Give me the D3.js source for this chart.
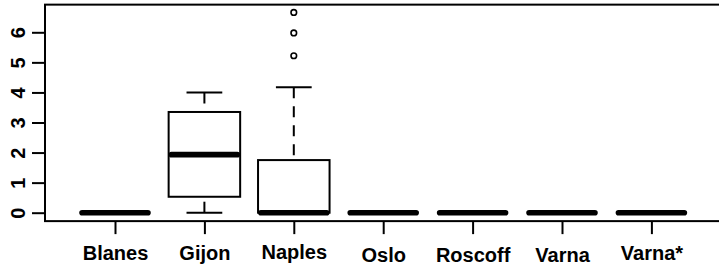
<!DOCTYPE html>
<html>
<head>
<meta charset="utf-8">
<script src="https://cdn.jsdelivr.net/npm/d3@7"></script>
<style>
  body { margin: 0; background: #fff; }
  svg text { font-family: "Liberation Sans", Arial, Helvetica, sans-serif; font-weight: bold; }
</style>
</head>
<body>
<div id="chart"></div>
<script>
// data
const sites   = ["Blanes", "Gijon", "Naples", "Oslo", "Roscoff", "Varna", "Varna*"];
const whiskLo = [0, 0,    0,    0, 0, 0, 0];
const q1      = [0, 0.53, 0,    0, 0, 0, 0];
const median  = [0, 1.93, 0,    0, 0, 0, 0];
const q3      = [0, 3.35, 1.75, 0, 0, 0, 0];
const whiskHi = [0, 4.0,  4.17, 0, 0, 0, 0];
const outliers = [[], [], [5.22, 5.98, 6.66], [], [], [], []];
const yTicks = [0, 1, 2, 3, 4, 5, 6];

// label baselines wobble a bit in the original
const labelY = [39, 39, 38, 41, 40.5, 41, 38.5];

const w = 719, h = 266;
const svg = d3.select('#chart').append('svg').attr('width', w).attr('height', h);

const x = d3.scalePoint().domain(sites).range([115, 651.4]);
const y = d3.scaleLinear().domain([0, 6]).range([212.7, 32.3]);
const step = x.step();
const boxW = step * 0.8;
const capW = boxW / 2;

// frame (right side runs off the picture)
svg.append('rect')
  .attr('x', 45).attr('y', y(6.92))
  .attr('width', 700).attr('height', y(-0.28) - y(6.92))
  .attr('fill', 'none').attr('stroke', '#000').attr('stroke-width', 2);

// y axis
const yAxis = svg.append('g').attr('transform', 'translate(45,0)')
  .call(d3.axisLeft(y).tickValues(yTicks).tickSize(13).tickFormat(d3.format('d')));
yAxis.select('.domain').remove();
yAxis.selectAll('line').attr('stroke', '#000').attr('stroke-width', 2);
yAxis.selectAll('text')
  .attr('transform', 'rotate(-90)')
  .attr('x', 0).attr('y', -20).attr('dy', 0)
  .attr('text-anchor', 'middle')
  .attr('fill', '#000')
  .style('font-size', '20px');

// x axis
const xAxis = svg.append('g').attr('transform', `translate(0,${y(-0.28)})`)
  .call(d3.axisBottom(x).tickSize(13));
xAxis.select('.domain').remove();
xAxis.selectAll('line').attr('stroke', '#000').attr('stroke-width', 2);
xAxis.selectAll('text')
  .attr('y', (d, i) => labelY[i]).attr('dy', 0)
  .attr('fill', '#000')
  .style('font-size', '20px');

const boxes = svg.selectAll('.box').data(sites).enter()
  .append('g').attr('class', 'box');

// whiskers, dashed, drawn from cap towards box
boxes.append('line')
  .attr('x1', d => x(d)).attr('x2', d => x(d))
  .attr('y1', (d, i) => y(whiskHi[i])).attr('y2', (d, i) => y(q3[i]))
  .attr('stroke', '#000').attr('stroke-width', 2).attr('stroke-dasharray', '11,8');
boxes.append('line')
  .attr('x1', d => x(d)).attr('x2', d => x(d))
  .attr('y1', (d, i) => y(whiskLo[i])).attr('y2', (d, i) => y(q1[i]))
  .attr('stroke', '#000').attr('stroke-width', 2).attr('stroke-dasharray', '11,8');

// caps
boxes.append('line')
  .attr('x1', d => x(d) - capW / 2).attr('x2', d => x(d) + capW / 2)
  .attr('y1', (d, i) => y(whiskHi[i])).attr('y2', (d, i) => y(whiskHi[i]))
  .attr('stroke', '#000').attr('stroke-width', 2);
boxes.append('line')
  .attr('x1', d => x(d) - capW / 2).attr('x2', d => x(d) + capW / 2)
  .attr('y1', (d, i) => y(whiskLo[i])).attr('y2', (d, i) => y(whiskLo[i]))
  .attr('stroke', '#000').attr('stroke-width', 2);

// box
boxes.append('rect')
  .attr('x', d => x(d) - boxW / 2).attr('width', boxW)
  .attr('y', (d, i) => y(q3[i]))
  .attr('height', (d, i) => y(q1[i]) - y(q3[i]))
  .attr('fill', 'none').attr('stroke', '#000').attr('stroke-width', 2);

// median
boxes.append('line')
  .attr('x1', d => x(d) - boxW / 2 + 2.8).attr('x2', d => x(d) + boxW / 2 - 2.8)
  .attr('y1', (d, i) => y(median[i])).attr('y2', (d, i) => y(median[i]))
  .attr('stroke', '#000').attr('stroke-width', 5.6).attr('stroke-linecap', 'round');

// outliers
boxes.each(function (d, i) {
  d3.select(this).selectAll('circle').data(outliers[i]).enter()
    .append('circle')
    .attr('cx', x(d)).attr('cy', v => y(v)).attr('r', 2.8)
    .attr('fill', 'none').attr('stroke', '#000').attr('stroke-width', 1.6);
});
</script>
</body>
</html>
